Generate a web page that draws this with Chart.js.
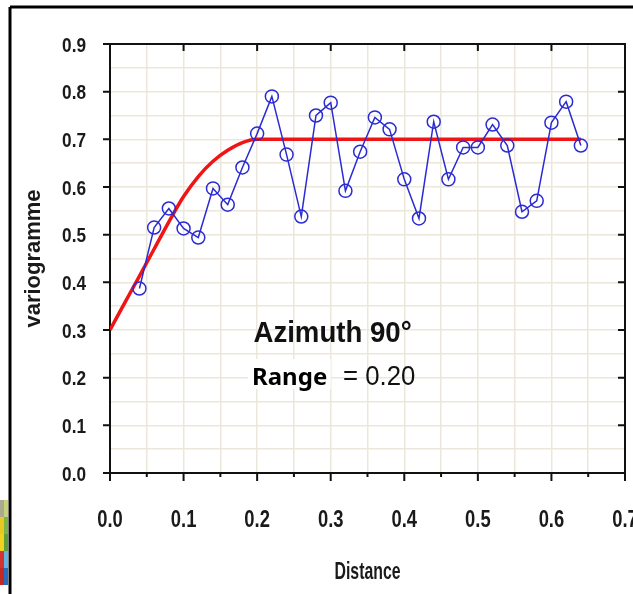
<!DOCTYPE html>
<html>
<head>
<meta charset="utf-8">
<script src="https://cdn.jsdelivr.net/npm/chart.js@4.4.1/dist/chart.umd.min.js"></script>
<style>
  html, body { margin: 0; padding: 0; background: #ffffff; }
</style>
</head>
<body>
<canvas id="variogramChart" width="633" height="594"></canvas>
<script>
// experimental variogram (blue circles)
const lagDistance = [0.04, 0.06, 0.08, 0.10, 0.12, 0.14, 0.16, 0.18, 0.20, 0.22,
                     0.24, 0.26, 0.28, 0.30, 0.32, 0.34, 0.36, 0.38, 0.40, 0.42,
                     0.44, 0.46, 0.48, 0.50, 0.52, 0.54, 0.56, 0.58, 0.60, 0.62, 0.64];
const experimentalGamma = [0.387, 0.515, 0.555, 0.513, 0.494, 0.597, 0.563, 0.641, 0.712, 0.790,
                           0.668, 0.538, 0.750, 0.777, 0.592, 0.674, 0.746, 0.721, 0.616, 0.534,
                           0.737, 0.616, 0.683, 0.683, 0.731, 0.687, 0.548, 0.571, 0.735, 0.779, 0.687];

// fitted model (red curve)
const modelDistance = [0, 0.02, 0.04, 0.06, 0.08, 0.10, 0.12, 0.14, 0.16, 0.18, 0.20, 0.64];
const modelGamma = [0.30, 0.357, 0.413, 0.47, 0.527, 0.58, 0.622, 0.654, 0.677, 0.693, 0.70, 0.70];

const xRange = [0, 0.7];
const yRange = [0, 0.9];
const gridStep = 0.05;

const sans = "'Liberation Sans', Arial, sans-serif";
const isMajor = v => Math.round(v * 100) % 10 === 0;
const fmt = v => (Math.round(v * 10) / 10).toFixed(1);

const toPoints = (xs, ys) => xs.map((x, i) => ({ x: x, y: ys[i] }));

// no narrow font installed, so squeeze Liberation Sans horizontally
function narrowText(ctx, text, x, y, font, align, sx) {
    ctx.save();
    ctx.font = font;
    ctx.textAlign = align;
    ctx.textBaseline = 'alphabetic';
    ctx.translate(x, y);
    ctx.scale(sx, 1);
    ctx.fillText(text, 0, 0);
    ctx.restore();
}

// black plot box + tick marks (major on all sides, minor under the x axis)
const frame = {
    id: 'frame',
    beforeDatasetsDraw(chart) {
        const { ctx, chartArea: a, scales: { x, y } } = chart;
        ctx.save();
        ctx.strokeStyle = '#111';
        ctx.lineWidth = 2;
        ctx.strokeRect(a.left, a.top, a.right - a.left, a.bottom - a.top);
        ctx.beginPath();
        ctx.moveTo(a.left - 7, a.bottom);
        ctx.lineTo(a.left, a.bottom);
        x.ticks.forEach(t => {
            const px = x.getPixelForValue(t.value);
            const major = isMajor(t.value);
            ctx.moveTo(px, a.bottom);
            ctx.lineTo(px, a.bottom + (major ? 8 : 4));
            if (major) {
                ctx.moveTo(px, a.top);
                ctx.lineTo(px, a.top + 7);
            }
        });
        y.ticks.forEach(t => {
            if (!isMajor(t.value)) return;
            const py = y.getPixelForValue(t.value);
            ctx.moveTo(a.left - 7, py);
            ctx.lineTo(a.left, py);
            ctx.moveTo(a.right, py);
            ctx.lineTo(a.right - 7, py);
        });
        ctx.stroke();
        ctx.restore();
    }
};

// tick labels and x title, condensed bold
const axisText = {
    id: 'axisText',
    afterDraw(chart) {
        const { ctx, chartArea: a, scales: { x, y } } = chart;
        ctx.save();
        ctx.fillStyle = '#1a1a1a';
        x.ticks.forEach(t => {
            if (!isMajor(t.value)) return;
            narrowText(ctx, fmt(t.value), x.getPixelForValue(t.value), a.bottom + 54,
                'bold 23px ' + sans, 'center', 0.8);
        });
        y.ticks.forEach(t => {
            if (!isMajor(t.value)) return;
            narrowText(ctx, fmt(t.value), a.left - 24, y.getPixelForValue(t.value) + 7.5,
                'bold 21px ' + sans, 'right', 0.82);
        });
        narrowText(ctx, 'Distance', (a.left + a.right) / 2, chart.height - 15,
            'bold 24px ' + sans, 'center', 0.66);
        ctx.restore();
    }
};

// slide decoration: border lines and the little coloured logo in the corner
const slide = {
    id: 'slide',
    afterDraw(chart) {
        const ctx = chart.ctx;
        ctx.save();
        ctx.strokeStyle = '#000';
        ctx.lineWidth = 3;
        ctx.beginPath();
        ctx.moveTo(10, 7);
        ctx.lineTo(chart.width, 7);
        ctx.moveTo(10, 7);
        ctx.lineTo(10, chart.height);
        ctx.stroke();
        const cubes = [
            ['#a9ab90', '#c8d27c'], ['#e9c824', '#7db446'], ['#f0d21e', '#5c9e3c'],
            ['#d2352f', '#62b4e4'], ['#c22a26', '#2a6cc0']
        ];
        cubes.forEach((c, i) => {
            ctx.fillStyle = c[0];
            ctx.fillRect(0, 500 + i * 17, 4, 17);
            ctx.fillStyle = c[1];
            ctx.fillRect(4, 500 + i * 17, 4, 17);
        });
        ctx.restore();
    }
};

// text annotations placed in data coordinates
const notes = {
    id: 'notes',
    afterDatasetsDraw(chart) {
        const { ctx, scales: { x, y } } = chart;
        ctx.save();
        ctx.fillStyle = '#111';
        narrowText(ctx, 'Azimuth 90°', x.getPixelForValue(0.195), y.getPixelForValue(0.275),
            'bold 30px ' + sans, 'left', 0.92);

        const bx0 = x.getPixelForValue(0.1876), bx1 = x.getPixelForValue(0.30);
        const by0 = y.getPixelForValue(0.239), by1 = y.getPixelForValue(0.176);
        ctx.fillStyle = '#fff';
        ctx.fillRect(bx0, by0, bx1 - bx0, by1 - by0);
        ctx.fillStyle = '#000';
        ctx.font = "bold 24px 'Noto Sans', 'Open Sans', sans-serif";
        ctx.textAlign = 'left';
        ctx.textBaseline = 'alphabetic';
        ctx.fillText('Range', x.getPixelForValue(0.193), y.getPixelForValue(0.185));
        ctx.fillStyle = '#111';
        narrowText(ctx, '= 0.20', x.getPixelForValue(0.3167), y.getPixelForValue(0.185),
            '28px ' + sans, 'left', 0.92);
        ctx.restore();
    }
};

const config = {
    type: 'scatter',
    data: {
        datasets: [{
            label: 'modèle',
            data: toPoints(modelDistance, modelGamma),
            showLine: true,
            borderColor: '#f01414',
            borderWidth: 3.5,
            pointRadius: 0,
            cubicInterpolationMode: 'monotone',
            order: 2
        }, {
            label: 'variogramme expérimental',
            data: toPoints(lagDistance, experimentalGamma),
            showLine: true,
            borderColor: '#2b2bd4',
            borderWidth: 1.5,
            pointStyle: 'circle',
            pointRadius: 6.5,
            pointBorderWidth: 1.5,
            pointBorderColor: '#2b2bd4',
            pointBackgroundColor: 'rgba(0,0,0,0)',
            tension: 0,
            order: 1
        }]
    },
    options: {
        responsive: false,
        animation: false,
        events: [],
        layout: {
            padding: { left: 0, right: 8, top: 44, bottom: 0 }
        },
        plugins: {
            legend: { display: false },
            tooltip: { enabled: false }
        },
        scales: {
            x: {
                type: 'linear',
                min: xRange[0],
                max: xRange[1],
                border: { display: false },
                grid: { color: '#ebe7da', lineWidth: 1.5, drawTicks: false },
                ticks: { stepSize: gridStep, autoSkip: false, display: false },
                afterFit: s => { s.height = 121; s.paddingLeft = 0; s.paddingRight = 0; }
            },
            y: {
                type: 'linear',
                min: yRange[0],
                max: yRange[1],
                border: { display: false },
                grid: { color: '#ebe7da', lineWidth: 1.5, drawTicks: false },
                ticks: { stepSize: gridStep, autoSkip: false, display: false },
                title: {
                    display: true,
                    text: 'variogramme',
                    color: '#1a1a1a',
                    font: { family: sans, size: 22, weight: 'bold' },
                    padding: { top: 21, bottom: 0 }
                },
                afterFit: s => { s.width = 110; s.paddingTop = 0; s.paddingBottom = 0; }
            }
        }
    },
    plugins: [frame, notes, axisText, slide]
};

new Chart(document.getElementById('variogramChart'), config);
</script>
</body>
</html>
